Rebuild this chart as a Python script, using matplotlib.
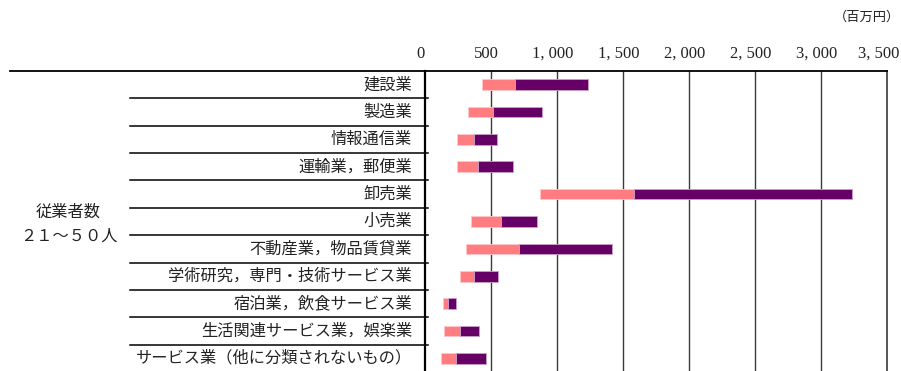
import matplotlib
matplotlib.use("Agg")
import matplotlib.pyplot as plt
from matplotlib.lines import Line2D
from matplotlib.transforms import blended_transform_factory, ScaledTranslation

plt.rcParams['font.family'] = ['Noto Sans CJK JP', 'DejaVu Sans']

industries = [
    "建設業",
    "製造業",
    "情報通信業",
    "運輸業，郵便業",
    "卸売業",
    "小売業",
    "不動産業，物品賃貸業",
    "学術研究，専門・技術サービス業",
    "宿泊業，飲食サービス業",
    "生活関連サービス業，娯楽業",
    "サービス業（他に分類されないもの）",
]
# lower quartile, median, upper quartile (million yen)
q1 = [432, 330, 242, 245, 871, 351, 315, 270, 139, 149, 124]
median = [682, 520, 371, 401, 1588, 578, 712, 373, 174, 267, 237]
q3 = [1240, 886, 548, 669, 3235, 851, 1419, 555, 235, 411, 462]
xticks = [0, 500, 1000, 1500, 2000, 2500, 3000, 3500]
xtick_labels = ["0", "500", "1, 000", "1, 500", "2, 000", "2, 500", "3, 000", "3, 500"]
group_label = ["従業者数", "２１～５０人"]
unit_label = "（百万円）"

W, H = 901, 371
fig = plt.figure(figsize=(W / 100, H / 100), dpi=100)
ax_left, ax_right = 424.7 / W, 886.7 / W
ax_top, ax_bottom = 1 - 71 / H, 1 - 372 / H
ax = fig.add_axes([ax_left, ax_bottom, ax_right - ax_left, ax_top - ax_bottom])

n = len(industries)
ypos = list(range(n))
pink = "#FF7C80"
purple = "#660066"
bar_h = 0.39
lower_w = [m - a for a, m in zip(q1, median)]
upper_w = [b - m for m, b in zip(median, q3)]
ax.barh(ypos, lower_w, left=q1, height=bar_h, color=pink,
        edgecolor="#FFC8CA", linewidth=0.6, zorder=3)
ax.barh(ypos, upper_w, left=median, height=bar_h, color=purple,
        edgecolor="#C9A0C9", linewidth=0.6, zorder=3)

ax.set_xlim(0, 3500)
ax.set_ylim(n - 0.5, -0.5)
ax.set_yticks([])
ax.xaxis.tick_top()
ax.set_xticks(xticks)
ax.set_xticklabels(xtick_labels, family=['Liberation Serif', 'DejaVu Serif'],
                   fontsize=12, color="#222222")
ax.tick_params(axis='x', length=0, pad=6.5)
labels = ax.get_xticklabels()
for k, lbl in enumerate(labels):
    dx = -8 if k == len(labels) - 1 else -4
    lbl.set_transform(lbl.get_transform() +
                      ScaledTranslation(dx / 100, 0, fig.dpi_scale_trans))
for v in xticks[1:-1]:
    ax.axvline(v, color="#3a3a3a", linewidth=1.0, zorder=1)

for side in ["top", "bottom"]:
    ax.spines[side].set_visible(False)
ax.spines["left"].set_linewidth(1.6)
ax.spines["left"].set_color("black")
ax.spines["right"].set_linewidth(1.2)
ax.spines["right"].set_color("#3a3a3a")

# header rule across the full table width
fig.add_artist(Line2D([10 / W, ax_right], [ax_top, ax_top],
                      transform=fig.transFigure, color="black", linewidth=1.3))

# row separators in the label column
trans = blended_transform_factory(fig.transFigure, ax.transData)
for i in range(n):
    ax.plot([130 / W, 428 / W], [i + 0.5, i + 0.5], transform=trans,
            color="black", linewidth=1.1, clip_on=False)

# category labels
for i, name in enumerate(industries):
    ax.text(412 / W, i, name, transform=trans, ha="right", va="center",
            fontsize=11.7, color="#222222")

fig.text(68 / W, 1 - 212 / H, group_label[0], ha="center", va="center",
         fontsize=11.7, color="#222222")
fig.text(69 / W, 1 - 236 / H, group_label[1], ha="center", va="center",
         fontsize=11.7, color="#222222")
fig.text(900 / W, 1 - 17 / H, unit_label, ha="right", va="center",
         fontsize=9.5, color="#222222")

fig.savefig("out.png", dpi=100)
